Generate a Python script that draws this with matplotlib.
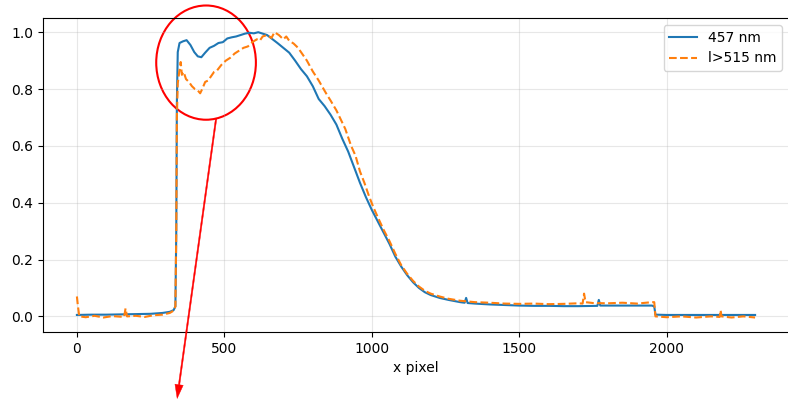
import matplotlib
matplotlib.use("Agg")
import matplotlib.pyplot as plt
from matplotlib.patches import Ellipse

# 457 nm profile
x_blue = [0, 50, 100, 150, 200, 250, 290, 315, 328, 334, 337, 339, 342, 348,
          360, 372, 385, 398, 410, 422, 435, 450, 465, 480, 495, 510, 525, 540,
          555, 570, 585, 600, 615, 630, 645, 660, 680, 700, 720, 740, 760, 780,
          800, 820, 840, 860, 880, 900, 920, 940, 960, 980, 1000, 1020, 1040,
          1060, 1080, 1100, 1120, 1140, 1160, 1180, 1200, 1230, 1260, 1300,
          1315, 1320, 1325, 1350, 1400, 1450, 1500, 1550, 1600, 1650, 1700,
          1765, 1770, 1775, 1800, 1850, 1900, 1950, 1958, 1962, 2000, 2100,
          2200, 2300]
y_blue = [0.005, 0.006, 0.006, 0.007, 0.008, 0.009, 0.012, 0.016, 0.022, 0.035,
          0.3, 0.75, 0.93, 0.962, 0.968, 0.972, 0.955, 0.93, 0.915, 0.912,
          0.928, 0.945, 0.952, 0.962, 0.965, 0.978, 0.982, 0.985, 0.99, 0.995,
          0.998, 0.996, 1.0, 0.995, 0.99, 0.978, 0.962, 0.945, 0.928, 0.9,
          0.87, 0.845, 0.81, 0.765, 0.74, 0.71, 0.675, 0.625, 0.58, 0.525,
          0.47, 0.42, 0.375, 0.335, 0.295, 0.255, 0.21, 0.175, 0.145, 0.12,
          0.1, 0.085, 0.075, 0.065, 0.058, 0.05, 0.048, 0.065, 0.047, 0.045,
          0.042, 0.04, 0.038, 0.037, 0.037, 0.036, 0.036, 0.037, 0.058, 0.038,
          0.038, 0.038, 0.038, 0.038, 0.035, 0.006, 0.005, 0.005, 0.005, 0.005]

# l>515 nm profile
x_orange = [0, 3, 8, 30, 60, 90, 120, 160, 165, 170, 200, 230, 260, 290, 315,
            328, 334, 337, 339, 342, 347, 352, 356, 362, 370, 380, 390, 400,
            410, 418, 425, 435, 445, 455, 465, 475, 490, 505, 520, 535, 550,
            565, 580, 595, 610, 620, 630, 645, 660, 670, 685, 700, 710, 720,
            735, 750, 760, 780, 800, 820, 845, 860, 880, 910, 930, 945, 960,
            975, 990, 1005, 1020, 1040, 1060, 1080, 1100, 1120, 1140, 1160,
            1180, 1200, 1230, 1260, 1300, 1350, 1400, 1450, 1500, 1550, 1600,
            1650, 1700, 1715, 1720, 1725, 1750, 1800, 1850, 1900, 1950, 1958,
            1962, 2000, 2050, 2100, 2150, 2180, 2183, 2186, 2220, 2260, 2300]
y_orange = [0.07, 0.04, 0.0, -0.003, 0.002, -0.004, 0.001, -0.002, 0.028, 0.0,
            0.002, -0.002, 0.004, 0.006, 0.012, 0.02, 0.035, 0.3, 0.7, 0.82,
            0.86, 0.895, 0.85, 0.86, 0.835, 0.825, 0.81, 0.8, 0.795, 0.785,
            0.8, 0.825, 0.83, 0.845, 0.86, 0.865, 0.885, 0.9, 0.91, 0.925,
            0.935, 0.945, 0.95, 0.965, 0.975, 0.97, 0.985, 0.99, 0.98, 1.0,
            0.99, 0.975, 0.985, 0.97, 0.96, 0.945, 0.93, 0.9, 0.862, 0.83,
            0.785, 0.76, 0.725, 0.66, 0.6, 0.565, 0.51, 0.47, 0.425, 0.385,
            0.35, 0.305, 0.265, 0.22, 0.18, 0.15, 0.125, 0.105, 0.09, 0.08,
            0.07, 0.062, 0.055, 0.05, 0.048, 0.045, 0.044, 0.045, 0.043, 0.044,
            0.046, 0.045, 0.08, 0.05, 0.047, 0.046, 0.048, 0.045, 0.05, 0.05,
            0.0, -0.003, 0.0, -0.004, 0.0, -0.002, 0.022, 0.0, -0.004, 0.0,
            -0.004]

fig = plt.figure(figsize=(7.88, 4.01), dpi=100)
ax = fig.add_axes([43 / 788, 69 / 401, 746 / 788, 314 / 401])

ax.plot(x_blue, y_blue, label="457 nm")
ax.plot(x_orange, y_orange, "--", label="l>515 nm")
ax.set_xlim(-115, 2415)
ax.set_ylim(-0.055, 1.05)
ax.set_xlabel("x pixel")
ax.grid(alpha=0.3)
ax.legend(loc="upper right")

# highlight region + arrow
ax.add_patch(Ellipse((438, 0.893), 338, 0.402, fill=False, color="red",
                     lw=1.5, clip_on=False))
ax.annotate("", xy=(340, -0.289), xytext=(472, 0.695),
            arrowprops=dict(facecolor="red", edgecolor="red", lw=0.3,
                            width=1.0, headwidth=6, headlength=10),
            annotation_clip=False)

fig.savefig("out.png")
